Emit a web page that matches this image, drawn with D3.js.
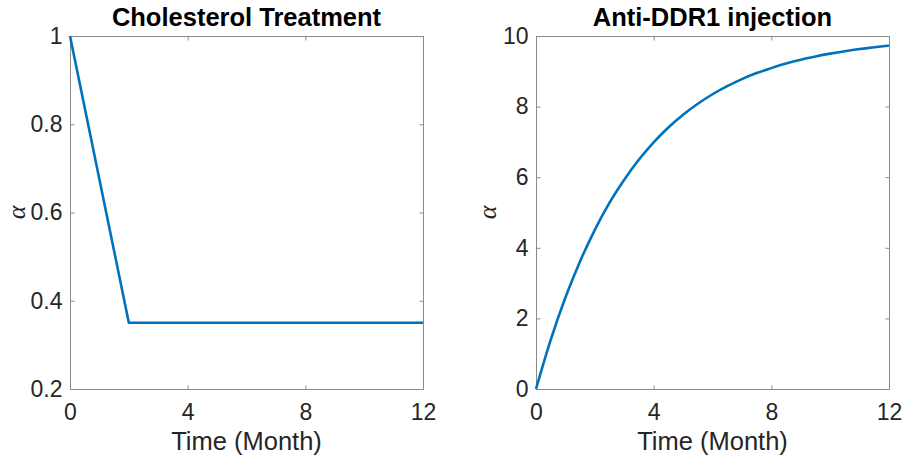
<!DOCTYPE html>
<html>
  <head>
    <meta charset="utf-8">
    <title>Cholesterol / Anti-DDR1</title>
    <script src="https://d3js.org/d3.v7.min.js"></script>
    <style>
      body { margin: 0; background: #fff; }
      svg { display: block; }
      .tick text { font-family: "Liberation Sans", Arial, sans-serif; font-size: 23px; fill: #262626; }
    </style>
  </head>
  <body>
    <div id="chart"></div>
    <script>
      // values
      var cholTime = [0, 2, 12];
      var cholAlpha = [1, 0.35, 0.35];

      var ddrTime = [0, 0.5, 1, 1.5, 2, 2.5, 3, 3.5, 4, 4.5, 5, 5.5, 6, 6.5, 7, 7.5, 8, 8.5, 9, 9.5, 10, 10.5, 11, 11.5, 12];
      var ddrAlpha = [0, 1.39, 2.59, 3.62, 4.51, 5.28, 5.93, 6.50, 6.99, 7.41, 7.77, 8.08, 8.35, 8.58, 8.78, 8.95, 9.09, 9.22, 9.33, 9.42, 9.50, 9.57, 9.63, 9.68, 9.73];

      var timeTicks = [0, 4, 8, 12];
      var cholTicks = [0.2, 0.4, 0.6, 0.8, 1];
      var ddrTicks = [0, 2, 4, 6, 8, 10];

      var width = 904, height = 459;
      var svg = d3.select("#chart").append("svg")
          .attr("width", width).attr("height", height);

      var panels = [
        {title: "Cholesterol Treatment", x: cholTime, y: cholAlpha, yDomain: [0.2, 1], yTicks: cholTicks,
         left: 70, right: 423, labelX: 18, curve: d3.curveLinear},
        {title: "Anti-DDR1 injection", x: ddrTime, y: ddrAlpha, yDomain: [0, 10], yTicks: ddrTicks,
         left: 536, right: 889, labelX: 489, curve: d3.curveMonotoneX}
      ];
      var axTop = 36, axBottom = 389;

      panels.forEach(function (p) {
        var x = d3.scaleLinear().domain([0, 12]).range([p.left, p.right]);
        var y = d3.scaleLinear().domain(p.yDomain).range([axBottom, axTop]);
        var g = svg.append("g");

        // box
        g.append("rect")
          .attr("x", p.left + 0.5).attr("y", axTop + 0.5)
          .attr("width", p.right - p.left).attr("height", axBottom - axTop)
          .attr("fill", "none").attr("stroke", "#8a8a8a").attr("stroke-width", 1);

        // ticks pointing inside, on all four sides
        var fmt = function (d) { return String(d); };
        var xb = g.append("g").attr("transform", "translate(0," + (axBottom + 0.5) + ")")
          .call(d3.axisBottom(x).tickValues(timeTicks).tickFormat(fmt).tickSizeInner(-4).tickSizeOuter(0));
        var xt = g.append("g").attr("transform", "translate(0," + (axTop + 0.5) + ")")
          .call(d3.axisTop(x).tickValues(timeTicks).tickFormat("").tickSizeInner(-4).tickSizeOuter(0));
        var yl = g.append("g").attr("transform", "translate(" + (p.left + 0.5) + ",0)")
          .call(d3.axisLeft(y).tickValues(p.yTicks).tickFormat(fmt).tickSizeInner(-4).tickSizeOuter(0).tickPadding(8));
        var yr = g.append("g").attr("transform", "translate(" + (p.right + 0.5) + ",0)")
          .call(d3.axisRight(y).tickValues(p.yTicks).tickFormat("").tickSizeInner(-4).tickSizeOuter(0));
        [xb, xt, yl, yr].forEach(function (a) {
          a.select(".domain").remove();
          a.selectAll(".tick line").attr("stroke", "#8a8a8a");
        });
        xb.selectAll(".tick text").attr("dy", null).attr("y", 30);

        // line
        var pts = p.x.map(function (t, i) { return [t, p.y[i]]; });
        g.append("path")
          .datum(pts)
          .attr("fill", "none")
          .attr("stroke", "#0072BD")
          .attr("stroke-width", 2.6)
          .attr("stroke-linejoin", "round")
          .attr("d", d3.line().curve(p.curve)
            .x(function (d) { return x(d[0]); })
            .y(function (d) { return y(d[1]); }));

        // title
        g.append("text")
          .attr("x", (p.left + p.right) / 2).attr("y", 26)
          .attr("text-anchor", "middle")
          .style("font-family", "'Liberation Sans', Arial, sans-serif")
          .style("font-weight", "bold").style("font-size", "25.5px").style("fill", "#000")
          .text(p.title);

        // x label
        g.append("text")
          .attr("x", (p.left + p.right) / 2).attr("y", 450)
          .attr("text-anchor", "middle")
          .style("font-family", "'Liberation Sans', Arial, sans-serif")
          .style("font-size", "25.5px").style("fill", "#262626")
          .text("Time (Month)");

        // y label
        g.append("text")
          .attr("transform", "translate(" + p.labelX + "," + ((axTop + axBottom) / 2) + ") rotate(-90)")
          .attr("text-anchor", "middle")
          .attr("dy", "0.25em")
          .style("font-family", "'Liberation Serif', 'DejaVu Serif', serif")
          .style("font-style", "italic")
          .style("font-size", "26px").style("fill", "#262626")
          .text("α");
      });
    </script>
  </body>
</html>
